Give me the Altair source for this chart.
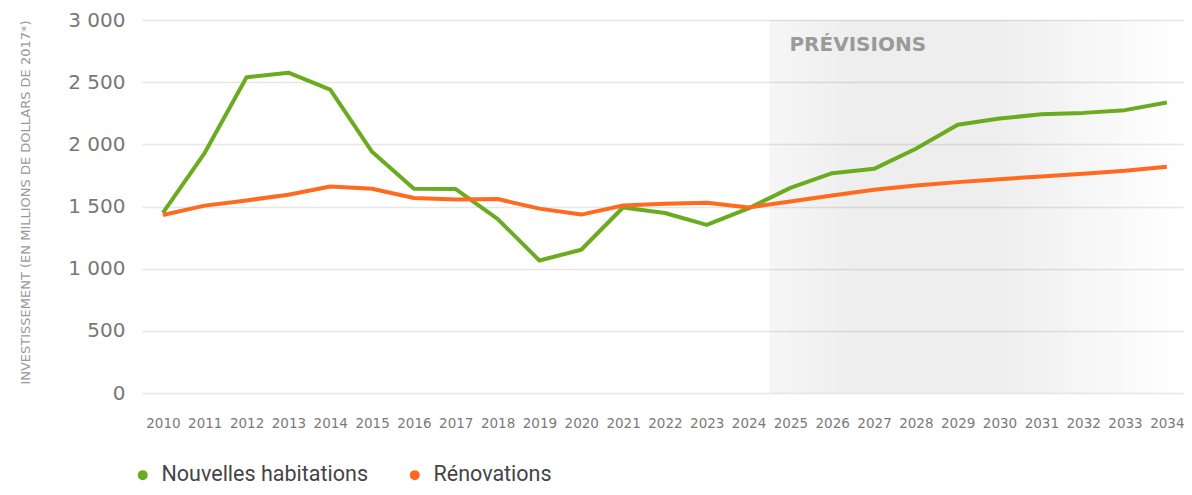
import altair as alt
import pandas as pd

years = list(range(2010, 2035))
nouvelles = [1448, 1932, 2540, 2576, 2440, 1940, 1643, 1640, 1400, 1066, 1152, 1492,
             1448, 1352, 1485, 1650, 1768, 1803, 1965, 2158, 2207, 2242, 2253, 2275, 2336]
renovations = [1432, 1507, 1549, 1595, 1661, 1643, 1568, 1557, 1560, 1483, 1435, 1508,
               1523, 1531, 1492, 1541, 1589, 1634, 1668, 1696, 1720, 1741, 1763, 1787, 1819]
series_names = ["Nouvelles habitations", "Rénovations"]
series_colors = ["#6aab1f", "#ff6a1f"]
y_ticks = [0, 500, 1000, 1500, 2000, 2500, 3000]
forecast_label = ["PRÉVISIONS"]
x_domain = [2009.5, 2034.41]
forecast_start = [2024.5]
forecast_end = [x_domain[1]]

df = pd.DataFrame({
    "annee": years * 2,
    "valeur": nouvelles + renovations,
    "serie": [series_names[0]] * len(years) + [series_names[1]] * len(years),
})
band = pd.DataFrame({"x": forecast_start, "x2": forecast_end, "y": [3000], "y2": [0]})
label_df = pd.DataFrame({"x": forecast_start, "y": [2800], "t": forecast_label})

font = "DejaVu Sans"
x_scale = alt.Scale(domain=x_domain, nice=False, zero=False)
y_scale = alt.Scale(domain=[0, 3000], nice=False)

grad = alt.LinearGradient(
    gradient="linear", x1=0, x2=1, y1=0, y2=0,
    stops=[
        alt.GradientStop(color="rgba(0,0,0,0.035)", offset=0),
        alt.GradientStop(color="rgba(0,0,0,0.065)", offset=0.2),
        alt.GradientStop(color="rgba(0,0,0,0.065)", offset=0.55),
        alt.GradientStop(color="rgba(0,0,0,0.0)", offset=1),
    ],
)

shade = alt.Chart(band).mark_rect(color=grad).encode(
    x=alt.X("x:Q", scale=x_scale),
    x2="x2:Q",
    y=alt.Y("y:Q", scale=y_scale),
    y2="y2:Q",
)

lines = alt.Chart(df).mark_line(strokeWidth=4, strokeJoin="round").encode(
    x=alt.X("annee:Q", scale=x_scale,
            axis=alt.Axis(values=years, format="d", title=None, grid=False, domain=False,
                          ticks=False, labelFont=font, labelFontSize=13.5, labelColor="#7a7a7a",
                          labelPadding=23, labelFlush=False, labelOverlap=False)),
    y=alt.Y("valeur:Q", scale=y_scale,
            axis=alt.Axis(values=y_ticks, title="INVESTISSEMENT (EN MILLIONS DE DOLLARS DE 2017*)",
                          labelExpr="replace(format(datum.value, ','), ',', ' ')",
                          grid=True, gridColor="#e6e6e6", gridWidth=1.5, domain=False, ticks=False,
                          labelFont=font, labelFontSize=20, labelColor="#777777", labelPadding=17,
                          titleFont=font, titleFontSize=13, titleFontWeight="normal",
                          titleColor="#999999", titleX=-117, titleY=182, titleBaseline="middle")),
    color=alt.Color("serie:N", scale=alt.Scale(domain=series_names, range=series_colors),
                    legend=alt.Legend(title=None, orient="none", direction="horizontal",
                                      legendX=-10, legendY=444, symbolType="circle", symbolSize=25,
                                      symbolStrokeWidth=5, labelFont="Roboto", labelFontSize=21.5,
                                      labelColor="#444444", labelOffset=8, columnPadding=34,
                                      labelLimit=400)),
)

text = alt.Chart(label_df).mark_text(align="left", baseline="middle", dx=20, font=font,
                                     fontSize=20, fontWeight="bold", color="#9a9a9a").encode(
    x=alt.X("x:Q", scale=x_scale),
    y=alt.Y("y:Q", scale=y_scale),
    text="t:N",
)

chart = alt.layer(shade, lines, text).properties(
    width=1042, height=373,
    autosize=alt.AutoSizeParams(type="none"),
    padding={"left": 134, "top": 12, "right": 0, "bottom": 94},
).configure_view(stroke=None)

chart.save("out.html", embed_options={"renderer": "svg", "actions": False})
